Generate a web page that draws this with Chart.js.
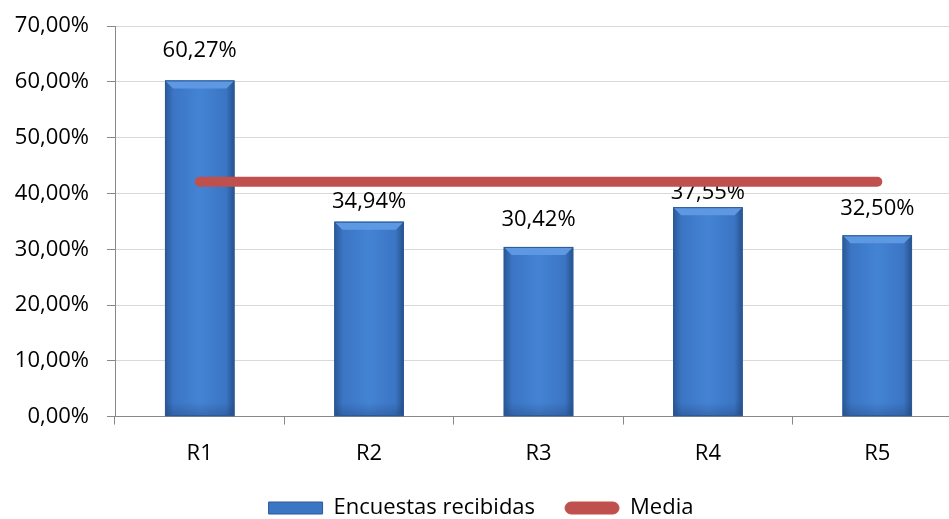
<!DOCTYPE html>
<html>
<head>
<meta charset="utf-8">
<script src="https://cdn.jsdelivr.net/npm/chart.js@4/dist/chart.umd.min.js"></script>
<style>
  html, body { margin: 0; padding: 0; background: #fff; overflow: hidden; }
  #wrap { width: 962px; height: 534px; margin-top: -5px; }
</style>
</head>
<body>
<div id="wrap"><canvas id="grafico"></canvas></div>
<script>
// Datos
const categorias = ['R1', 'R2', 'R3', 'R4', 'R5'];
const encuestas = [60.27, 34.94, 30.42, 37.55, 32.50];
const media = [42.1, 42.1, 42.1, 42.1, 42.1];
const ticksY = [0, 10, 20, 30, 40, 50, 60, 70];

const fuente = '"Open Sans", sans-serif';
const pct = v => v.toFixed(2).replace('.', ',') + '%';
const IDX_BARRAS = 1;
// separación de cada etiqueta sobre su barra (px)
const sepEtiqueta = [30, 20, 27, 14, 27];

// Barras con degradado y bisel
const barrasBisel = {
    id: 'barrasBisel',
    afterDatasetDraw(chart, args) {
        if (args.index !== IDX_BARRAS) return;
        const c = chart.ctx;
        args.meta.data.forEach(bar => {
            const x0 = bar.x - bar.width / 2, x1 = bar.x + bar.width / 2;
            const top = bar.y, bot = bar.base;
            const g = c.createLinearGradient(x0, 0, x1, 0);
            g.addColorStop(0, '#2a5896');
            g.addColorStop(0.12, '#3b75c4');
            g.addColorStop(0.5, '#4483d4');
            g.addColorStop(0.88, '#3b75c4');
            g.addColorStop(1, '#27518c');
            c.save();
            c.fillStyle = g;
            c.fillRect(x0, top, x1 - x0, bot - top);
            // bisel superior
            const b = 8;
            c.fillStyle = '#5e98e2';
            c.beginPath();
            c.moveTo(x0, top); c.lineTo(x1, top); c.lineTo(x1 - b, top + b); c.lineTo(x0 + b, top + b);
            c.closePath(); c.fill();
            // sombra inferior
            const gb = c.createLinearGradient(0, bot - 14, 0, bot);
            gb.addColorStop(0, 'rgba(30,60,110,0)');
            gb.addColorStop(1, 'rgba(30,60,110,0.35)');
            c.fillStyle = gb;
            c.fillRect(x0, bot - 14, x1 - x0, 14);
            c.strokeStyle = '#2b5a96';
            c.lineWidth = 1;
            c.strokeRect(x0 + 0.5, top + 0.5, x1 - x0 - 1, bot - top - 1);
            c.restore();
        });
        // etiquetas de valor
        c.save();
        c.font = '22px ' + fuente;
        c.fillStyle = '#000';
        c.textAlign = 'center';
        c.textBaseline = 'middle';
        args.meta.data.forEach((bar, i) => {
            c.fillText(pct(encuestas[i]), bar.x, bar.y - sepEtiqueta[i]);
        });
        c.restore();
    }
};

const ctx = document.getElementById('grafico').getContext('2d');
const grafico = new Chart(ctx, {
    data: {
        labels: categorias,
        datasets: [
            {
                type: 'line',
                label: 'Media',
                data: media,
                borderColor: '#c0504d',
                backgroundColor: '#c0504d',
                borderWidth: 10,
                borderCapStyle: 'round',
                pointRadius: 0,
                order: 0
            },
            {
                type: 'bar',
                label: 'Encuestas recibidas',
                data: encuestas,
                backgroundColor: '#3b76c4',
                borderWidth: 0,
                barPercentage: 0.41,
                categoryPercentage: 1,
                order: 1
            }
        ]
    },
    options: {
        responsive: true,
        maintainAspectRatio: false,
        animation: false,
        layout: { padding: { top: 9, left: 0, right: 0, bottom: 0 } },
        scales: {
            x: {
                offset: true,
                afterFit: s => { s.height -= 16; },
                grid: { offset: true, drawOnChartArea: false, drawTicks: true, tickLength: 8, color: '#888' },
                border: { color: '#888' },
                ticks: { font: { family: fuente, size: 22 }, color: '#000', padding: 16 }
            },
            y: {
                min: 0,
                max: 70,
                afterFit: s => { s.width = 115; },
                afterBuildTicks: s => { s.ticks = ticksY.map(v => ({ value: v })); },
                grid: { color: '#d9d9d9', tickLength: 8, tickColor: '#888' },
                border: { color: '#888' },
                ticks: {
                    font: { family: fuente, size: 22 },
                    color: '#000',
                    padding: 18,
                    callback: v => pct(v)
                }
            }
        },
        plugins: {
            tooltip: { enabled: false },
            legend: {
                position: 'bottom',
                reverse: true,
                labels: {
                    font: { family: fuente, size: 22 },
                    color: '#000',
                    boxWidth: 54,
                    boxHeight: 12,
                    padding: 30,
                    useBorderRadius: true,
                    generateLabels: chart => chart.data.datasets.map((d, i) => ({
                        text: d.label,
                        fillStyle: i === 0 ? '#c0504d' : '#3b76c4',
                        strokeStyle: i === 0 ? '#c0504d' : '#2b5a96',
                        lineWidth: 1,
                        borderRadius: i === 0 ? 6 : 0,
                        datasetIndex: i
                    }))
                }
            }
        }
    },
    plugins: [barrasBisel]
});
</script>
</body>
</html>
